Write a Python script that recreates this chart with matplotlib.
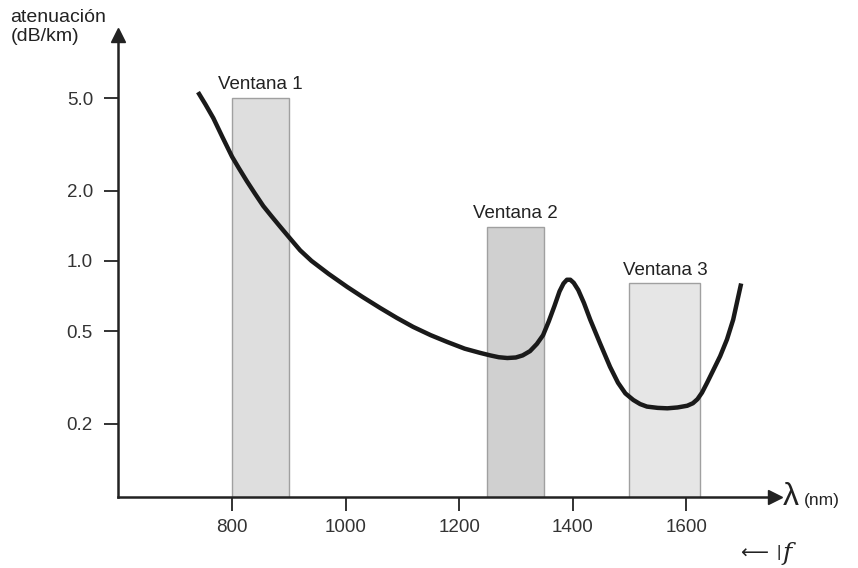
import matplotlib.pyplot as plt

# window data (nm ranges and top attenuation)
win_labels = ['Ventana 1', 'Ventana 2', 'Ventana 3']
win_start = [800, 1250, 1500]
win_end = [900, 1350, 1625]
win_top = [5.0, 1.4, 0.8]
win_colors = ['#dedede', '#d0d0d0', '#e6e6e6']

# attenuation curve
wavelength = [740, 753, 767, 783, 800, 812, 826, 840, 855, 870, 885, 902, 920, 940, 970,
              1003, 1030, 1061, 1090, 1119, 1150, 1179, 1210, 1237, 1255, 1270, 1285,
              1300, 1312, 1325, 1337, 1348, 1358, 1368, 1377, 1384, 1390, 1396, 1402,
              1410, 1420, 1431, 1448, 1466, 1480, 1493, 1507, 1519, 1531, 1550, 1567,
              1585, 1602, 1612, 1620, 1628, 1637, 1648, 1660, 1672, 1683, 1697]
attenuation = [5.3, 4.7, 4.1, 3.4, 2.8, 2.5, 2.2, 1.95, 1.72, 1.55, 1.40, 1.25, 1.11,
               1.0, 0.88, 0.773, 0.70, 0.628, 0.57, 0.521, 0.48, 0.449, 0.42, 0.403,
               0.393, 0.386, 0.383, 0.385, 0.393, 0.41, 0.44, 0.48, 0.55, 0.64, 0.74,
               0.80, 0.83, 0.83, 0.805, 0.75, 0.66, 0.56, 0.445, 0.351, 0.30, 0.27,
               0.253, 0.243, 0.237, 0.234, 0.233, 0.235, 0.239, 0.245, 0.255, 0.272,
               0.30, 0.34, 0.39, 0.46, 0.56, 0.80]

xticks = [800, 1000, 1200, 1400, 1600]
yticks = [0.2, 0.5, 1.0, 2.0, 5.0]

plt.rcParams['font.family'] = ['Liberation Sans', 'DejaVu Sans']

fig = plt.figure(figsize=(8.58, 5.68), dpi=100)
ax = fig.add_axes([0.1375, 0.125, 0.766, 0.813])
ax.set_yscale('log')
ax.set_xlim(599, 1757)
ax.set_ylim(0.097, 9.3)

# windows
for lab, a, b, top, c in zip(win_labels, win_start, win_end, win_top, win_colors):
    ax.bar(a, top - 0.05, width=b - a, bottom=0.05, align='edge',
           color=c, edgecolor='#a0a0a0', linewidth=1.0, zorder=1)
    ax.text((a + b) / 2, top * 1.05, lab, ha='center', va='bottom',
            fontsize=13.5, color='#222222')

ax.plot(wavelength, attenuation, color='#1a1a1a', lw=3.2,
        solid_capstyle='butt', solid_joinstyle='round', zorder=3)

for s in ['top', 'right']:
    ax.spines[s].set_visible(False)
for s in ['left', 'bottom']:
    ax.spines[s].set_linewidth(1.8)
    ax.spines[s].set_color('#222222')

# arrow heads
ax.plot(1, 0, marker='>', ms=10, color='#222222', transform=ax.transAxes, clip_on=False)
ax.plot(0, 1, marker='^', ms=10, color='#222222', transform=ax.transAxes, clip_on=False)

ax.set_xticks(xticks)
ax.set_xticklabels([str(v) for v in xticks])
ax.set_yticks(yticks)
ax.set_yticklabels(['%.1f' % v for v in yticks])
ax.minorticks_off()
ax.tick_params(axis='both', direction='out', length=10, width=1.3,
               color='#222222', labelsize=13.5, labelcolor='#333333')
ax.tick_params(axis='x', pad=6)
ax.tick_params(axis='y', pad=8)

fig.text(0.012, 0.952, 'atenuación\n(dB/km)', fontsize=14, color='#222222',
         ha='left', va='center', linespacing=1.15)
fig.text(0.912, 0.125, 'λ', fontsize=23, color='#222222', ha='left', va='center')
fig.text(0.937, 0.118, '(nm)', fontsize=12.5, color='#222222', ha='left', va='center')
fig.text(0.862, 0.025, '⟵', fontsize=14, color='#222222', ha='left', va='center')
fig.text(0.905, 0.027, '|', fontsize=12, color='#222222', ha='left', va='center')
fig.text(0.912, 0.025, 'f', fontsize=18, style='italic', family='DejaVu Serif',
         color='#222222', ha='left', va='center')

fig.savefig('out.png', dpi=100)
